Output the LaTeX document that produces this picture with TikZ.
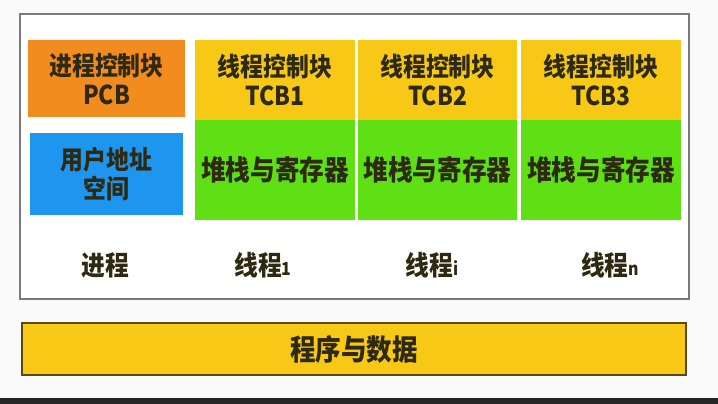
\documentclass[tikz,border=0pt]{standalone}
\usepackage{fontspec}
\newfontfamily\cjk{Noto Sans CJK SC}[FakeStretch=0.88]
\definecolor{bgc}{HTML}{FAFAFA}
\definecolor{orangec}{HTML}{F28C1E}
\definecolor{bluec}{HTML}{1E96F0}
\definecolor{yellowc}{HTML}{F7C815}
\definecolor{greenc}{HTML}{5EE014}
\definecolor{framec}{HTML}{7A7A7A}
\definecolor{txtc}{HTML}{2E2A12}
\definecolor{barborder}{HTML}{5A4A12}
\begin{document}
\begin{tikzpicture}[x=1pt,y=-1pt,
  blk/.style={rectangle, inner sep=0pt, align=center, text=txtc,
    font=\cjk\bfseries\fontsize{26}{29}\selectfont},
  lbl/.style={inner sep=0pt, text=txtc, font=\cjk\bfseries\fontsize{27}{30}\selectfont}]
\useasboundingbox (0,0) rectangle (718,404);
\fill[bgc] (0,0) rectangle (718,404);
\fill[black!85] (0,398) rectangle (718,404);
% outer frame
\node[draw=framec, line width=2pt, fill=white, rectangle, inner sep=0pt,
  minimum width=669pt, minimum height=285pt] (frame) at (354.5,156.5) {};
% process column
\node[blk, fill=orangec, minimum width=157pt, minimum height=77pt] (pcb) at (106.5,78.5) {进程控制块\\PCB};
\node[blk, fill=bluec, minimum width=153pt, minimum height=82pt] (uas) at (106.5,174) {用户地址\\空间};
% thread columns
\node[blk, fill=yellowc, minimum width=160pt, minimum height=80pt] (tcb1) at (275,80) {线程控制块\\TCB1};
\node[blk, fill=greenc, minimum width=160pt, minimum height=100pt] (stk1) at (275,170) {\fontsize{28}{30}\selectfont 堆栈与寄存器};
\node[blk, fill=yellowc, minimum width=159pt, minimum height=80pt] (tcb2) at (437.5,80) {线程控制块\\TCB2};
\node[blk, fill=greenc, minimum width=159pt, minimum height=100pt] (stk2) at (437.5,170) {\fontsize{28}{30}\selectfont 堆栈与寄存器};
\node[blk, fill=yellowc, minimum width=160pt, minimum height=80pt] (tcb3) at (601,80) {线程控制块\\TCB3};
\node[blk, fill=greenc, minimum width=160pt, minimum height=100pt] (stk3) at (601,170) {\fontsize{28}{30}\selectfont 堆栈与寄存器};
% labels
\node[lbl] (lp) at (105,265) {进程};
\node[lbl] (l1) at (263,265) {线程{\fontsize{18}{20}\selectfont 1}};
\node[lbl] (li) at (432,265) {线程{\fontsize{18}{20}\selectfont i}};
\node[lbl] (ln) at (610,265) {线程{\fontsize{18}{20}\selectfont n}};
% bottom bar
\node[blk, draw=barborder, line width=1.8pt, fill=yellowc, minimum width=664pt, minimum height=52pt,
  font=\cjk\bfseries\fontsize{29}{30}\selectfont] (data) at (354,349) {程序与数据};
\end{tikzpicture}
\end{document}
